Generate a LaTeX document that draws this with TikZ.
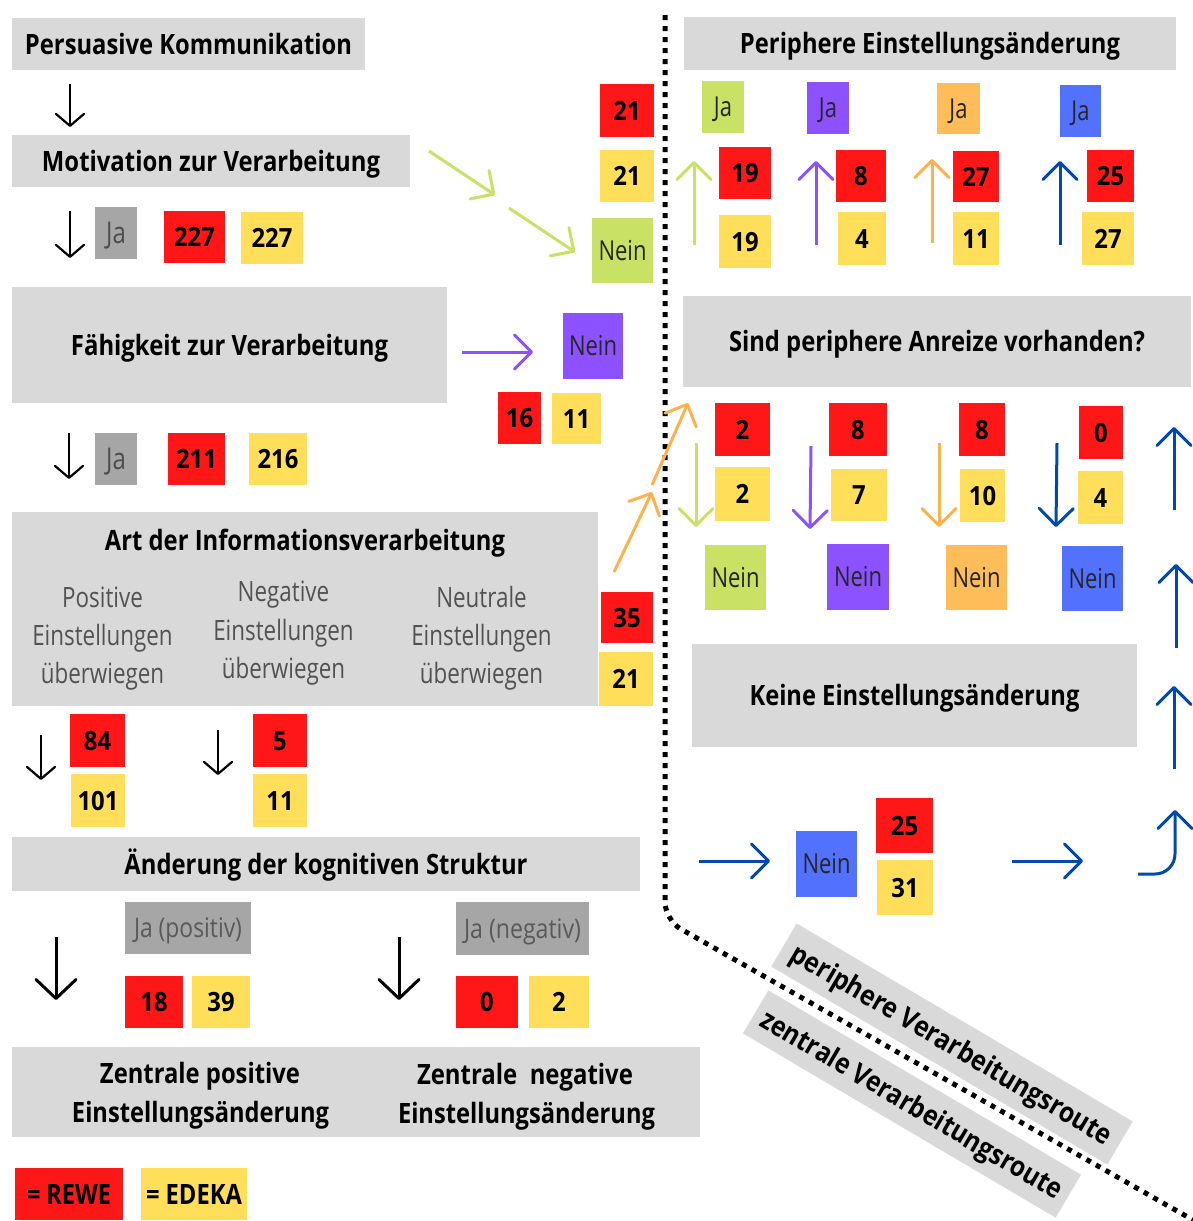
\documentclass[tikz,border=0pt]{standalone}
\usepackage{fontspec}
\usepackage{graphicx}
\setmainfont{Open Sans}
\newfontfamily\osnarrow[FakeStretch=0.8]{Open Sans}
\newfontfamily\osnum[FakeStretch=0.9]{Open Sans}
\usetikzlibrary{arrows.meta}
\definecolor{gbox}{HTML}{D9D9D9}
\definecolor{dgray}{HTML}{A6A6A6}
\definecolor{rred}{HTML}{FF1616}
\definecolor{yel}{HTML}{FFDE59}
\definecolor{grn}{HTML}{C9E265}
\definecolor{pur}{HTML}{8C52FF}
\definecolor{ora}{HTML}{FFBD59}
\definecolor{oraA}{HTML}{FFB14E}
\definecolor{blu}{HTML}{5271FF}
\definecolor{dblu}{HTML}{004AAD}
\newcommand\fitw[2]{\resizebox{#1pt}{\height}{#2}}
\newcommand\bx[7]{\node[#2, minimum width={#5-#3}, minimum height={#6-#4}] (#1) at ({(#3+#5)/2},{(#4+#6)/2}) {#7};}
\tikzset{
  base/.style={inner sep=0pt, outer sep=0pt},
  gbx/.style={base, fill=gbox},
  hdbox/.style={base, fill=gbox, font=\fontsize{28}{34}\selectfont\bfseries, text height=20pt, text depth=0pt},
  hdtext/.style={base, font=\fontsize{28}{34}\selectfont\bfseries},
  numbox/.style={base, font=\osnum\fontsize{26.5}{31}\selectfont\bfseries, text height=19pt, text depth=0pt},
  redbox/.style={numbox, fill=rred},
  yelbox/.style={numbox, fill=yel},
  labbox/.style={base, font=\osnarrow\fontsize{27.5}{32}\selectfont, text=black!85, text height=19.5pt, text depth=0pt},
  jabox/.style={labbox, fill=dgray, text=black!70, font=\osnarrow\fontsize{30}{35}\selectfont, text height=21.5pt},
  jpbox/.style={labbox, fill=dgray, text=black!65, font=\osnarrow\fontsize{27}{32}\selectfont, text height=19.5pt},
  coltext/.style={base, font=\osnarrow\fontsize{28}{34}\selectfont, text=black!68},
  legbox/.style={base, font=\fontsize{28}{34}\selectfont\bfseries, text height=20pt, text depth=0pt},
  bandbox/.style={base, fill=gbox, font=\fontsize{28}{34}\selectfont\bfseries, text height=20pt, text depth=0pt, rotate=-30.5},
  karr/.style={draw=black, line width=2.2pt, -{Straight Barb[length=12pt,width=28pt,round]}},
  kbig/.style={draw=black, line width=3pt, -{Straight Barb[length=19pt,width=40pt,round]}},
  carr/.style={line width=3pt, -{Straight Barb[length=17pt,width=34pt,round]}},
  dotline/.style={draw=black, line width=5pt, dash pattern=on 5pt off 6pt, rounded corners=18pt}
}
\begin{document}
\begin{tikzpicture}[x=1pt,y=-1pt]
\useasboundingbox (0,0) rectangle (1193,1221);
\fill[white] (0,0) rectangle (1193,1221);

% dotted separator
\coordinate (d0) at (665,15);
\coordinate (d1) at (665,920);
\coordinate (d2) at (1193,1220);
\draw[dotline] (d0) -- (d1) -- (d2);

% ---------------- left: central route ----------------
\bx{pk}{hdbox}{12}{18}{365}{70}{\fitw{327}{Persuasive Kommunikation}}
\coordinate (a1s) at (70,84); \coordinate (a1e) at (70,127);
\draw[karr] (a1s) -- (a1e);
\bx{mv}{hdbox}{12}{135}{410}{187}{\fitw{338}{Motivation zur Verarbeitung}}
\coordinate (a2s) at (70,211); \coordinate (a2e) at (70,258);
\draw[karr] (a2s) -- (a2e);
\bx{ja1}{jabox}{95}{207}{137}{259}{Ja}
\bx{r227}{redbox}{164}{211}{225}{263}{227}
\bx{y227}{yelbox}{241}{212}{303}{264}{227}

% motivation: Nein
\bx{r21a}{redbox}{600}{84}{654}{137}{21}
\bx{y21a}{yelbox}{600}{150}{654}{202}{21}
\bx{nein0}{labbox,fill=grn}{592}{218}{653}{283}{Nein}
\coordinate (g1s) at (429,151); \coordinate (g1e) at (495,195);
\coordinate (g2s) at (509,208); \coordinate (g2e) at (575,252);
\draw[carr,draw=grn] (g1s) -- (g1e);
\draw[carr,draw=grn] (g2s) -- (g2e);

\bx{fv}{hdbox}{12}{287}{447}{403}{\fitw{317}{Fähigkeit zur Verarbeitung}}
\coordinate (p1s) at (462,352); \coordinate (p1e) at (533,352);
\draw[carr,draw=pur] (p1s) -- (p1e);
\bx{nein1}{labbox,fill=pur}{563}{313}{623}{379}{Nein}
\bx{r16}{redbox}{498}{392}{541}{444}{16}
\bx{y11a}{yelbox}{552}{393}{601}{444}{11}

\coordinate (a3s) at (69,433); \coordinate (a3e) at (69,479);
\draw[karr] (a3s) -- (a3e);
\bx{ja2}{jabox}{95}{433}{137}{485}{Ja}
\bx{r211}{redbox}{168}{433}{225}{485}{211}
\bx{y216}{yelbox}{249}{433}{307}{485}{216}

\bx{ai}{gbx}{12}{512}{598}{706}{}
\node[hdtext, anchor=base] (aititle) at (305,550) {\fitw{400}{Art der Informationsverarbeitung}};
\node[coltext, anchor=base] (pos1) at (102.5,607) {Positive};
\node[coltext, anchor=base] (pos2) at (102.5,645) {Einstellungen};
\node[coltext, anchor=base] (pos3) at (102.5,683) {überwiegen};
\node[coltext, anchor=base] (neg1) at (283.5,601) {Negative};
\node[coltext, anchor=base] (neg2) at (283.5,640) {Einstellungen};
\node[coltext, anchor=base] (neg3) at (283.5,678) {überwiegen};
\node[coltext, anchor=base] (neu1) at (481.5,607) {Neutrale};
\node[coltext, anchor=base] (neu2) at (481.5,645) {Einstellungen};
\node[coltext, anchor=base] (neu3) at (481.5,683) {überwiegen};

\bx{r35}{redbox}{601}{592}{653}{643}{35}
\bx{y21b}{yelbox}{599}{652}{653}{706}{21}
\coordinate (o1s) at (614,572); \coordinate (o1e) at (652,492);
\coordinate (o2s) at (652,485); \coordinate (o2e) at (688,403);
\draw[carr,draw=oraA] (o1s) -- (o1e);
\draw[carr,draw=oraA] (o2s) -- (o2e);

\coordinate (a4s) at (41,735); \coordinate (a4e) at (41,780);
\draw[karr] (a4s) -- (a4e);
\bx{r84}{redbox}{70}{714}{125}{767}{84}
\bx{y101}{yelbox}{71}{774}{125}{827}{101}
\coordinate (a5s) at (218,730); \coordinate (a5e) at (218,775);
\draw[karr] (a5s) -- (a5e);
\bx{r5}{redbox}{253}{714}{307}{767}{5}
\bx{y11b}{yelbox}{253}{774}{307}{827}{11}

\bx{ks}{hdbox}{12}{837}{640}{891}{\fitw{403}{Änderung der kognitiven Struktur}}
\coordinate (a6s) at (56,937); \coordinate (a6e) at (56,1000);
\draw[kbig] (a6s) -- (a6e);
\coordinate (a7s) at (399,937); \coordinate (a7e) at (399,1000);
\draw[kbig] (a7s) -- (a7e);
\bx{jpos}{jpbox}{125}{902}{251}{954}{\fitw{108}{Ja (positiv)}}
\bx{jneg}{jpbox}{456}{902}{589}{955}{\fitw{117}{Ja (negativ)}}
\bx{r18}{redbox}{125}{976}{183}{1028}{18}
\bx{y39}{yelbox}{192}{976}{250}{1028}{39}
\bx{r0a}{redbox}{456}{976}{518}{1028}{0}
\bx{y2a}{yelbox}{529}{976}{589}{1028}{2}

\bx{ze}{gbx}{12}{1047}{700}{1137}{}
\node[hdtext, anchor=base] (zp1) at (200,1083) {\fitw{200}{Zentrale positive}};
\node[hdtext, anchor=base] (zp2) at (200.5,1122) {\fitw{257}{Einstellungsänderung}};
\node[hdtext, anchor=base] (zn1) at (525,1084) {\fitw{216}{Zentrale\ \ negative}};
\node[hdtext, anchor=base] (zn2) at (526.5,1123) {\fitw{257}{Einstellungsänderung}};

\bx{lrewe}{legbox,fill=rred}{15}{1168}{123}{1220}{\fitw{84}{= REWE}}
\bx{ledeka}{legbox,fill=yel}{141}{1168}{247}{1220}{\fitw{96}{= EDEKA}}

% ---------------- right: peripheral route ----------------
\bx{pe}{hdbox}{684}{17}{1176}{70}{\fitw{380}{Periphere Einstellungsänderung}}
\bx{jag}{labbox,fill=grn}{702}{81}{744}{133}{Ja}
\bx{jap}{labbox,fill=pur}{807}{82}{849}{134}{Ja}
\bx{jao}{labbox,fill=ora}{937}{83}{980}{134}{Ja}
\bx{jab}{labbox,fill=blu}{1060}{85}{1101}{137}{Ja}
\coordinate (ug0) at (694,245); \coordinate (ug1) at (694,161);
\coordinate (up0) at (816,245); \coordinate (up1) at (816,161);
\coordinate (uo0) at (932,243); \coordinate (uo1) at (932,159);
\coordinate (ub0) at (1060,245); \coordinate (ub1) at (1060,161);
\draw[carr,draw=grn] (ug0) -- (ug1);
\draw[carr,draw=pur] (up0) -- (up1);
\draw[carr,draw=oraA] (uo0) -- (uo1);
\draw[carr,draw=dblu] (ub0) -- (ub1);
\bx{r19}{redbox}{719}{147}{771}{199}{19}
\bx{y19}{yelbox}{719}{215}{771}{268}{19}
\bx{r8a}{redbox}{836}{150}{886}{202}{8}
\bx{y4a}{yelbox}{838}{212}{886}{265}{4}
\bx{r27}{redbox}{953}{151}{999}{202}{27}
\bx{y11c}{yelbox}{953}{212}{999}{265}{11}
\bx{r25a}{redbox}{1087}{150}{1134}{202}{25}
\bx{y27}{yelbox}{1082}{212}{1134}{265}{27}

\bx{sp}{hdbox}{683}{296}{1191}{387}{\fitw{416}{Sind periphere Anreize vorhanden?}}
\bx{r2}{redbox}{715}{403}{770}{456}{2}
\bx{y2b}{yelbox}{715}{467}{770}{521}{2}
\bx{r8b}{redbox}{829}{403}{887}{456}{8}
\bx{y7}{yelbox}{831}{469}{887}{521}{7}
\bx{r8c}{redbox}{959}{403}{1005}{456}{8}
\bx{y10}{yelbox}{960}{469}{1005}{522}{10}
\bx{r0b}{redbox}{1079}{406}{1123}{459}{0}
\bx{y4b}{yelbox}{1078}{471}{1123}{524}{4}
\coordinate (dg0) at (696,443); \coordinate (dg1) at (696,527);
\coordinate (dp0) at (811,446); \coordinate (dp1) at (810,529);
\coordinate (do0) at (939,443); \coordinate (do1) at (939,527);
\coordinate (db0) at (1057,443); \coordinate (db1) at (1056,527);
\draw[carr,draw=grn] (dg0) -- (dg1);
\draw[carr,draw=pur] (dp0) -- (dp1);
\draw[carr,draw=oraA] (do0) -- (do1);
\draw[carr,draw=dblu] (db0) -- (db1);
\bx{ng}{labbox,fill=grn}{705}{545}{766}{610}{Nein}
\bx{np}{labbox,fill=pur}{827}{544}{889}{610}{Nein}
\bx{no}{labbox,fill=ora}{946}{545}{1007}{610}{Nein}
\bx{nb}{labbox,fill=blu}{1062}{546}{1123}{611}{Nein}

\bx{ke}{hdbox}{692}{644}{1137}{747}{\fitw{330}{Keine Einstellungsänderung}}

\coordinate (br0) at (699,861); \coordinate (br1) at (770,861);
\draw[carr,draw=dblu] (br0) -- (br1);
\bx{nb2}{labbox,fill=blu}{796}{831}{857}{897}{Nein}
\bx{r25b}{redbox}{876}{798}{933}{853}{25}
\bx{y31}{yelbox}{877}{860}{933}{915}{31}
\coordinate (br2) at (1012,861); \coordinate (br3) at (1083,861);
\draw[carr,draw=dblu] (br2) -- (br3);
\coordinate (cu0) at (1138,874); \coordinate (cu1) at (1175,810);
\draw[carr,draw=dblu,rounded corners=20pt] (cu0) -| (cu1);
\coordinate (u30) at (1174,769); \coordinate (u31) at (1174,686);
\coordinate (u20) at (1176,648); \coordinate (u21) at (1176,564);
\coordinate (u10) at (1174,510); \coordinate (u11) at (1174,427);
\draw[carr,draw=dblu] (u30) -- (u31);
\draw[carr,draw=dblu] (u20) -- (u21);
\draw[carr,draw=dblu] (u10) -- (u11);

% route labels
\node[bandbox, minimum width=390, minimum height=50] (band1) at (952,1044) {\fitw{368}{periphere Verarbeitungsroute}};
\node[bandbox, minimum width=363, minimum height=50] (band2) at (912,1104) {\fitw{345}{zentrale Verarbeitungsroute}};
\end{tikzpicture}
\end{document}
